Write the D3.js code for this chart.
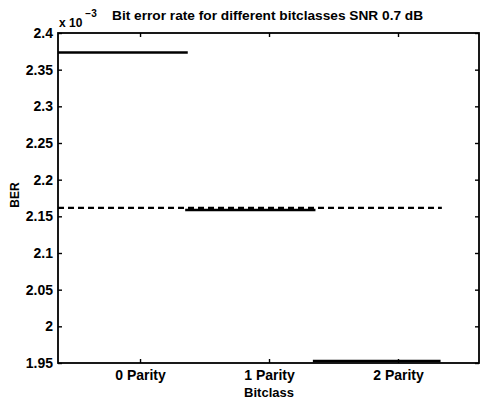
<!DOCTYPE html>
<html>
<head>
<meta charset="utf-8">
<script src="https://cdn.jsdelivr.net/npm/d3@7"></script>
<style>
	body { margin: 0; background: #fff; }
	svg { display: block; }
	text { font-family: "Liberation Sans", Arial, Helvetica, sans-serif; font-weight: bold; fill: #000; }
</style>
</head>
<body>
<svg id="chart" width="482" height="400"></svg>
<script>
// bit error rate per bitclass (values x 10^-3)
var classes = ['0 Parity', '1 Parity', '2 Parity'];
var classPos = [1, 2, 3];
var ber = [2.3734, 2.1586, 1.9527];
var segStart = [0.364, 1.35, 2.34];
var segEnd = [1.37, 2.36, 3.33];
var meanBer = [2.1616];
var meanSpan = [0.364, 3.34];
var yTicks = [1.95, 2, 2.05, 2.1, 2.15, 2.2, 2.25, 2.3, 2.35, 2.4];

var svg = d3.select('#chart');

// plot box (window.top is taken, so own names)
var boxL = 58, boxR = 479, boxT = 33, boxB = 363;

var x = d3.scaleLinear().domain([0.364, 3.628]).range([boxL, boxR]);
var y = d3.scaleLinear().domain([1.95, 2.4]).range([boxB, boxT]);

svg.append('rect')
	.attr('x', boxL)
	.attr('y', boxT)
	.attr('width', boxR - boxL)
	.attr('height', boxB - boxT)
	.attr('fill', 'none')
	.attr('stroke', '#000')
	.attr('stroke-width', 1.8);

// y ticks, left and right, pointing inside
var yAxis = d3.axisLeft(y).tickValues(yTicks).tickSize(-4).tickPadding(5)
	.tickFormat(function(d) { return String(+d.toFixed(2)); });
var gy = svg.append('g').attr('transform', 'translate(' + boxL + ',0)').call(yAxis);
gy.select('.domain').remove();
gy.selectAll('line').attr('stroke-width', 1.4);
gy.selectAll('text').attr('font-size', 14).attr('font-family', null).style('font-weight', 'bold');

var gyr = svg.append('g').attr('transform', 'translate(' + boxR + ',0)')
	.call(d3.axisRight(y).tickValues(yTicks).tickSize(-4).tickFormat(''));
gyr.select('.domain').remove();
gyr.selectAll('line').attr('stroke-width', 1.4);

// x ticks, bottom and top
var xAxis = d3.axisBottom(x).tickValues(classPos).tickSize(-4).tickPadding(7)
	.tickFormat(function(d, i) { return classes[i]; });
var gx = svg.append('g').attr('transform', 'translate(0,' + boxB + ')').call(xAxis);
gx.select('.domain').remove();
gx.selectAll('line').attr('stroke-width', 1.4);
gx.selectAll('text').attr('font-size', 14).attr('font-family', null).style('font-weight', 'bold');

var gxt = svg.append('g').attr('transform', 'translate(0,' + boxT + ')')
	.call(d3.axisTop(x).tickValues(classPos).tickSize(-4).tickFormat(''));
gxt.select('.domain').remove();
gxt.selectAll('line').attr('stroke-width', 1.4);

// per class BER
svg.selectAll('.seg')
	.data(ber)
	.enter().append('line')
	.attr('class', 'seg')
	.attr('x1', function(d, i) { return x(segStart[i]); })
	.attr('x2', function(d, i) { return x(segEnd[i]); })
	.attr('y1', function(d) { return y(d); })
	.attr('y2', function(d) { return y(d); })
	.attr('stroke', '#000')
	.attr('stroke-width', 2.6);

// average BER
svg.selectAll('.mean')
	.data(meanBer)
	.enter().append('line')
	.attr('class', 'mean')
	.attr('x1', x(meanSpan[0]))
	.attr('x2', x(meanSpan[1]))
	.attr('y1', function(d) { return y(d); })
	.attr('y2', function(d) { return y(d); })
	.attr('stroke', '#000')
	.attr('stroke-width', 2.2)
	.attr('stroke-dasharray', '6,4');

// labels
svg.append('text')
	.attr('x', 112)
	.attr('y', 20)
	.attr('font-size', 13.7)
	.text('Bit error rate for different bitclasses SNR 0.7 dB');

var mult = svg.append('text')
	.attr('x', 59)
	.attr('y', 27)
	.attr('font-size', 12);
mult.append('tspan').text('x 10');
mult.append('tspan').attr('dx', 3).attr('dy', -10).attr('font-size', 10).text('\u22123');

svg.append('text')
	.attr('transform', 'translate(19,195) rotate(-90)')
	.attr('text-anchor', 'middle')
	.attr('font-size', 12)
	.text('BER');

svg.append('text')
	.attr('x', x(2))
	.attr('y', 397)
	.attr('text-anchor', 'middle')
	.attr('font-size', 13)
	.text('Bitclass');
</script>
</body>
</html>
